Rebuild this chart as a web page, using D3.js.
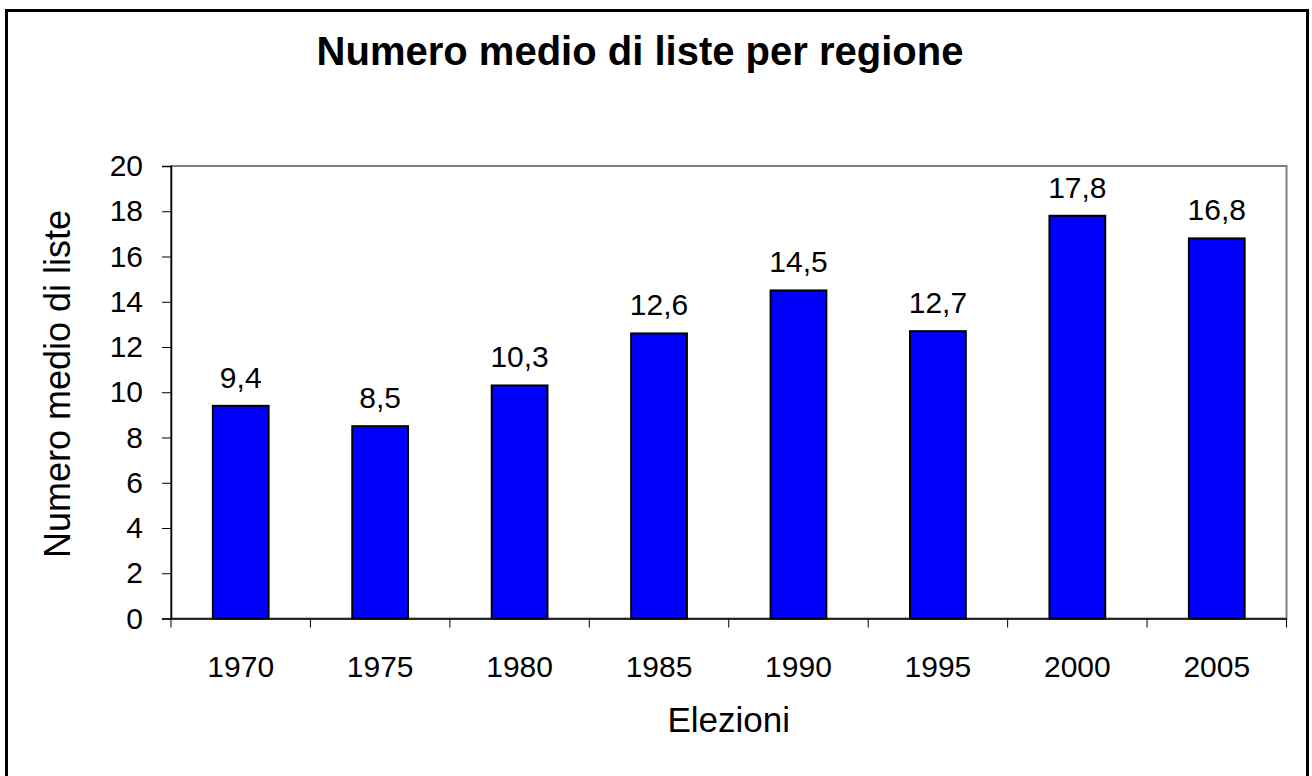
<!DOCTYPE html>
<html>
<head>
<meta charset="utf-8">
<script src="https://cdn.jsdelivr.net/npm/d3@7"></script>
<style>
  body { margin: 0; background: #fff; }
  svg { display: block; font-family: "Liberation Sans", Arial, sans-serif; }
</style>
</head>
<body>
<div class="canvas"></div>
<script>
const years = ["1970", "1975", "1980", "1985", "1990", "1995", "2000", "2005"];
const values = [9.4, 8.5, 10.3, 12.6, 14.5, 12.7, 17.8, 16.8];
const yTicks = [0, 2, 4, 6, 8, 10, 12, 14, 16, 18, 20];

const W = 1312, H = 776;
const plot = { left: 171, right: 1286.5, top: 166, bottom: 618.5 };

const svg = d3
  .select(".canvas")
  .append("svg")
  .attr("width", W)
  .attr("height", H);

// outer frame
svg
  .append("rect")
  .attr("x", 6.5)
  .attr("y", 10.5)
  .attr("width", 1301)
  .attr("height", 800)
  .attr("fill", "none")
  .attr("stroke", "#000")
  .attr("stroke-width", 3);

const x = d3
  .scaleBand()
  .domain(years)
  .range([plot.left, plot.right])
  .paddingInner(0.6)
  .paddingOuter(0.3);

const xCat = d3.scaleBand().domain(years).range([plot.left, plot.right]);

const y = d3.scaleLinear().domain([0, 20]).range([plot.bottom, plot.top]);

// plot area border
svg
  .append("rect")
  .attr("x", plot.left)
  .attr("y", plot.top)
  .attr("width", plot.right - plot.left)
  .attr("height", plot.bottom - plot.top)
  .attr("fill", "none")
  .attr("stroke", "#808080")
  .attr("stroke-width", 2);

// bars
svg
  .selectAll(".bar")
  .data(values)
  .join("rect")
  .attr("class", "bar")
  .attr("x", (d, i) => x(years[i]))
  .attr("y", (d) => y(d))
  .attr("width", x.bandwidth())
  .attr("height", (d) => y(0) - y(d))
  .attr("fill", "#0000ff")
  .attr("stroke", "#000")
  .attr("stroke-width", 2);

// value labels
svg
  .selectAll(".lbl")
  .data(values)
  .join("text")
  .attr("class", "lbl")
  .attr("x", (d, i) => x(years[i]) + x.bandwidth() / 2)
  .attr("y", (d) => y(d) - 18)
  .attr("text-anchor", "middle")
  .attr("font-size", 30)
  .text((d) => d.toFixed(1).replace(".", ","));

// y axis
const yAxis = svg
  .append("g")
  .attr("transform", `translate(${plot.left},0)`)
  .call(d3.axisLeft(y).tickValues(yTicks).tickSize(9).tickPadding(19));
yAxis.select(".domain").attr("stroke", "#000").attr("stroke-width", 1.5);
yAxis.selectAll(".tick line").attr("stroke", "#000").attr("stroke-width", 1);
yAxis
  .selectAll(".tick text")
  .attr("font-size", 30)
  .attr("font-family", "Liberation Sans, Arial, sans-serif")
  .attr("fill", "#000");

// x axis
const xAxis = svg
  .append("g")
  .attr("transform", `translate(0,${plot.bottom})`)
  .call(d3.axisBottom(x).tickSize(0).tickPadding(37));
xAxis.select(".domain").attr("stroke", "#000").attr("stroke-width", 1.5);
xAxis
  .selectAll(".tick text")
  .attr("font-size", 30)
  .attr("font-family", "Liberation Sans, Arial, sans-serif")
  .attr("fill", "#000");

// category boundary ticks
const bounds = years.map((d) => xCat(d)).concat([plot.right]);
svg
  .selectAll(".xtick")
  .data(bounds)
  .join("line")
  .attr("class", "xtick")
  .attr("x1", (d) => d)
  .attr("x2", (d) => d)
  .attr("y1", plot.bottom)
  .attr("y2", plot.bottom + 9)
  .attr("stroke", "#000")
  .attr("stroke-width", 1);

// titles
svg
  .append("text")
  .attr("x", 640)
  .attr("y", 65)
  .attr("text-anchor", "middle")
  .attr("font-size", 40)
  .attr("font-weight", "bold")
  .text("Numero medio di liste per regione");

svg
  .append("text")
  .attr("x", (plot.left + plot.right) / 2)
  .attr("y", 732)
  .attr("text-anchor", "middle")
  .attr("font-size", 35)
  .text("Elezioni");

svg
  .append("text")
  .attr("transform", `translate(70,384) rotate(-90)`)
  .attr("text-anchor", "middle")
  .attr("font-size", 36)
  .text("Numero medio di liste");
</script>
</body>
</html>
